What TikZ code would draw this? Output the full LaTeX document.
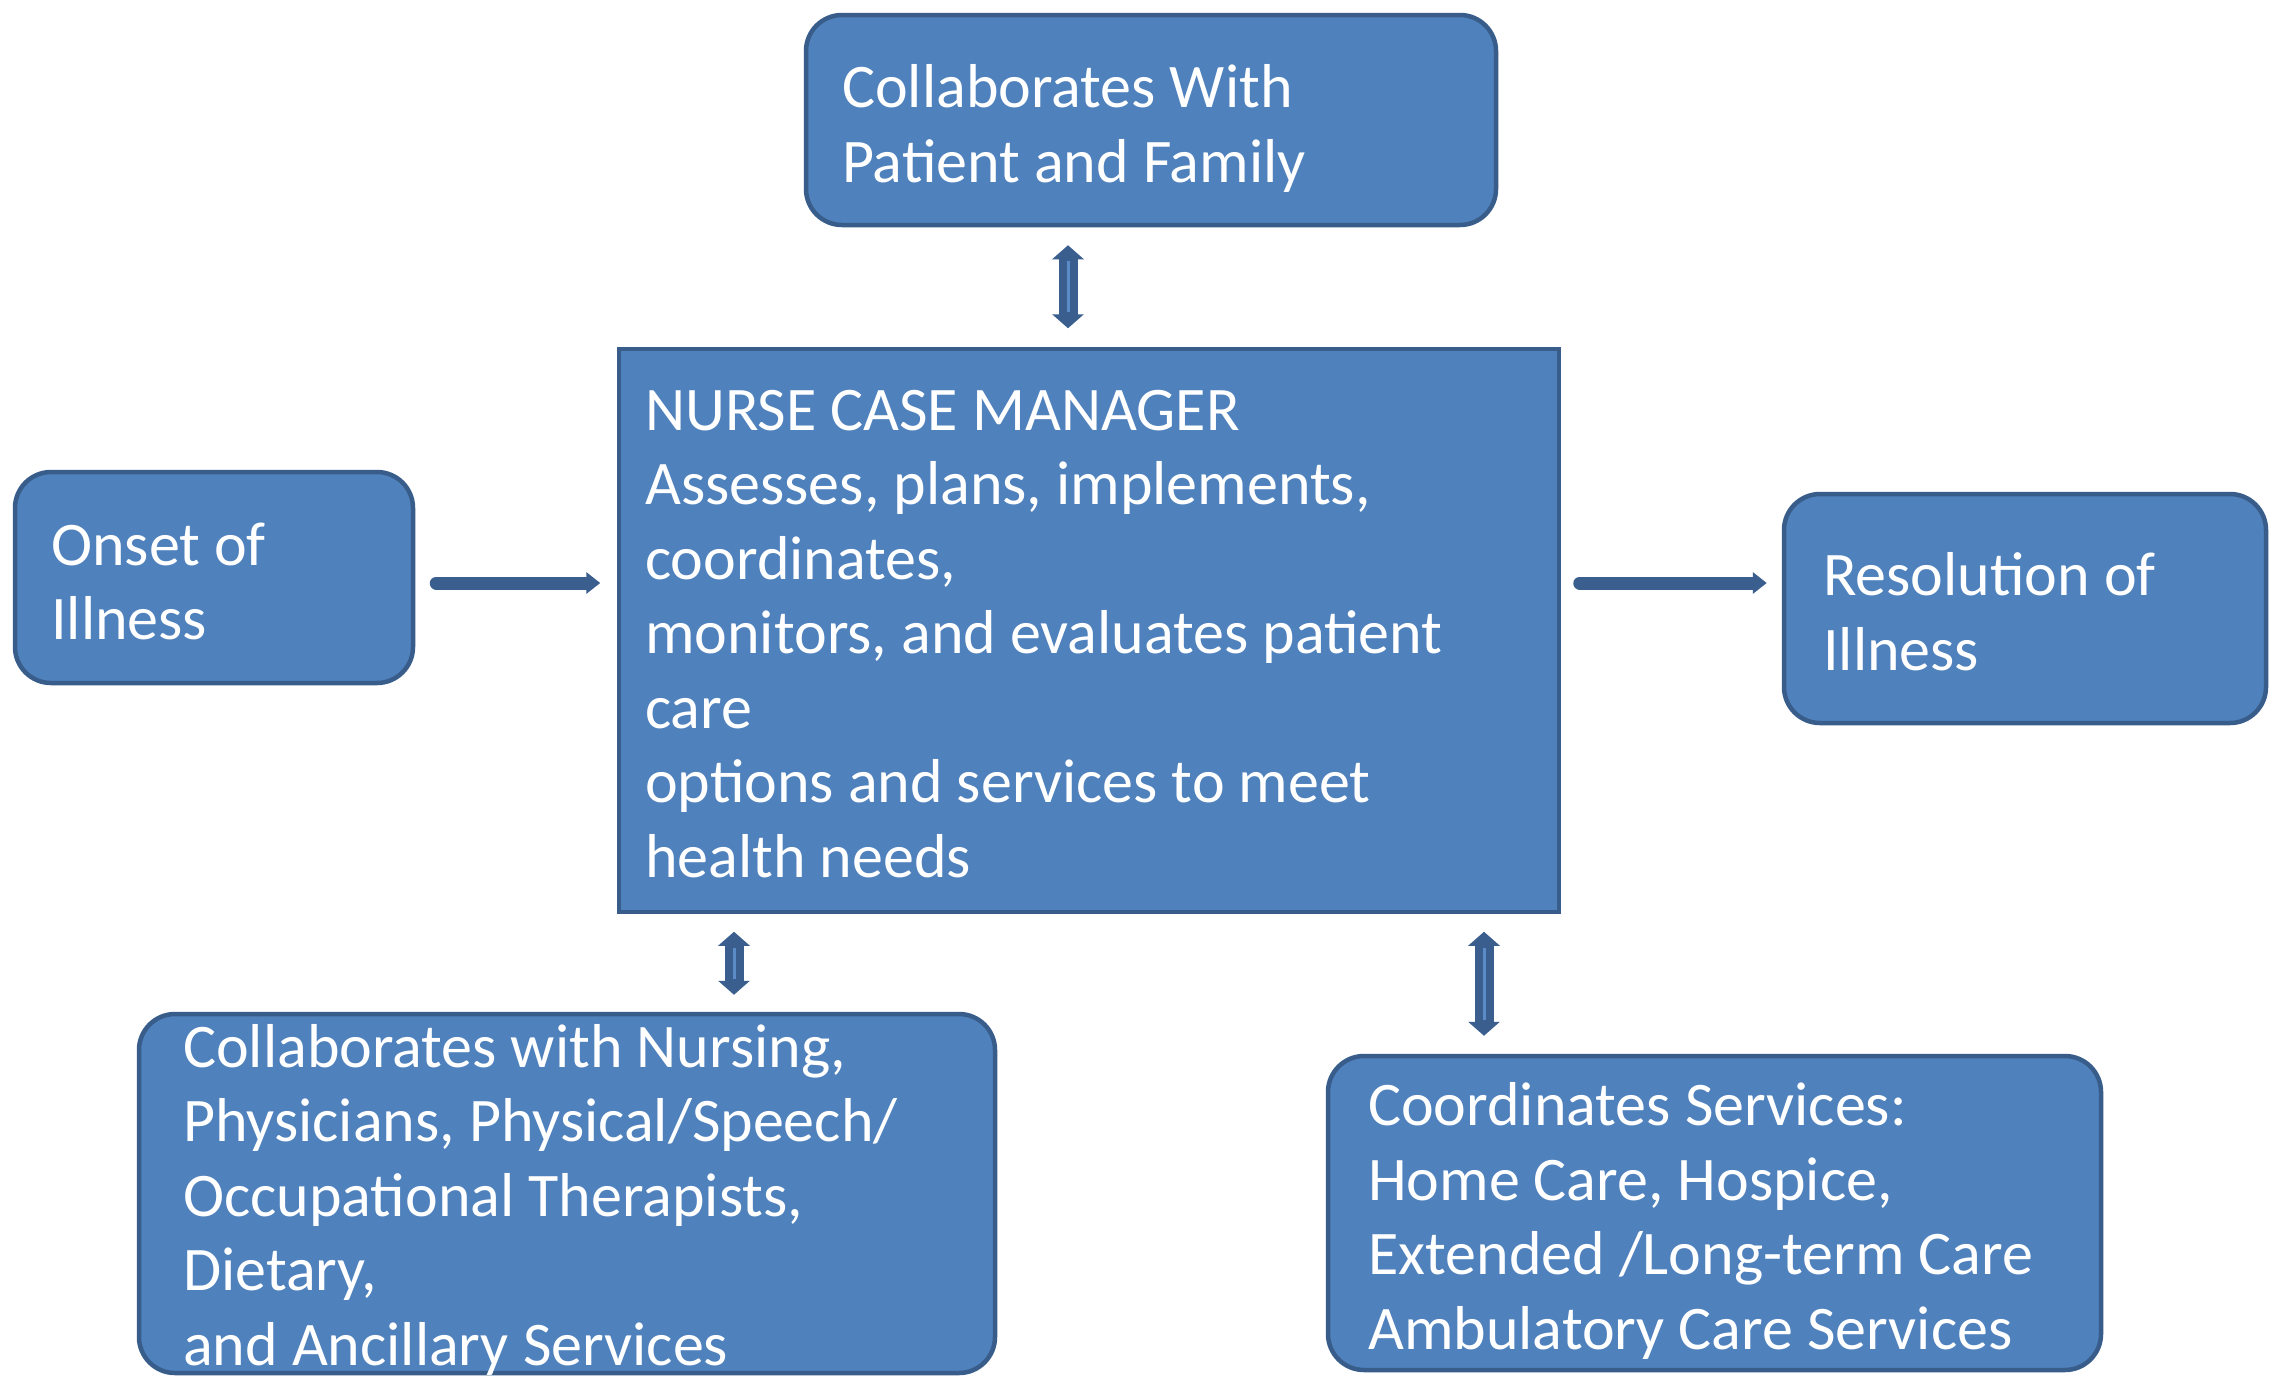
\documentclass[tikz,border=0pt]{standalone}
\usepackage{fontspec}
\setmainfont{Carlito}
\usetikzlibrary{arrows.meta}
\definecolor{boxfill}{HTML}{4F81BD}
\definecolor{boxline}{HTML}{385D8A}
\definecolor{arrline}{HTML}{3A5F8E}
\definecolor{arrinner}{HTML}{5B8CC8}
\tikzset{
  rbox/.style={draw=boxline, fill=boxfill, line width=4.5pt, rounded corners=36pt, inner sep=0pt},
  sbox/.style={draw=boxline, fill=boxfill, line width=3.5pt, inner sep=0pt},
  txt/.style={text=white, anchor=base west, inner sep=0pt, align=left, font=\fontsize{62}{74.5}\selectfont},
  harr/.style={draw=arrline, line width=13pt, line cap=round, -{Triangle[width=21pt,length=14pt]}},
  darr/.style={draw=arrline, line width=19pt, {Triangle[width=31pt,length=14pt]}-{Triangle[width=31pt,length=14pt]}},
  dinner/.style={draw=arrinner, line width=3pt}
}
\begin{document}
\begin{tikzpicture}[x=1pt,y=-1pt]
\useasboundingbox[fill=white] (0,0) rectangle (2278,1382);
% boxes
\node[rbox, minimum width=690pt, minimum height=210pt] (top) at (1151,120) {};
\node[sbox, minimum width=940pt, minimum height=563pt] (ctr) at (1089,630.5) {};
\node[rbox, minimum width=398pt, minimum height=211pt] (lft) at (214,577.5) {};
\node[rbox, minimum width=482pt, minimum height=229pt] (rgt) at (2025,608.5) {};
\node[rbox, minimum width=856pt, minimum height=359pt] (bl) at (567,1193.5) {};
\node[rbox, minimum width=773pt, minimum height=314pt] (br) at (1714.5,1213) {};
% texts (anchor = baseline of last line)
\node[txt] (ttop) at (842,182) {Collaborates With\\Patient and Family};
\node[txt] (tctr) at (645,877) {NURSE CASE MANAGER\\Assesses, plans, implements,\\coordinates,\\monitors, and evaluates patient\\care\\options and services to meet\\health needs};
\node[txt] (tlft) at (51,639.5) {Onset of\\Illness};
\node[txt] (trgt) at (1823,670) {Resolution of\\Illness};
\node[txt] (tbl) at (183,1365) {Collaborates with Nursing,\\Physicians, Physical/Speech/\\Occupational Therapists,\\Dietary,\\and Ancillary Services};
\node[txt] (tbr) at (1368,1349) {Coordinates Services:\\Home Care, Hospice,\\Extended /Long-term Care\\Ambulatory Care Services};
% arrows
\draw[harr] ([xshift=21pt,yshift=-5.5pt]lft.east) -- ([xshift=-17pt,yshift=47.5pt]ctr.west);
\draw[harr] ([xshift=19pt,yshift=47.5pt]ctr.east) -- ([xshift=-15pt,yshift=25.5pt]rgt.west);
\draw[darr] ([xshift=-83pt,yshift=-18pt]top.south) -- ([xshift=-21pt,yshift=19pt]ctr.north);
\draw[dinner] ([xshift=-83pt,yshift=-34pt]top.south) -- ([xshift=-21pt,yshift=35pt]ctr.north);
\draw[darr] ([xshift=-355pt,yshift=-18pt]ctr.south) -- ([xshift=167pt,yshift=17pt]bl.north);
\draw[dinner] ([xshift=-355pt,yshift=-34pt]ctr.south) -- ([xshift=167pt,yshift=33pt]bl.north);
\draw[darr] ([xshift=395pt,yshift=-18pt]ctr.south) -- ([xshift=-230.5pt,yshift=18pt]br.north);
\draw[dinner] ([xshift=395pt,yshift=-34pt]ctr.south) -- ([xshift=-230.5pt,yshift=34pt]br.north);
\end{tikzpicture}
\end{document}
